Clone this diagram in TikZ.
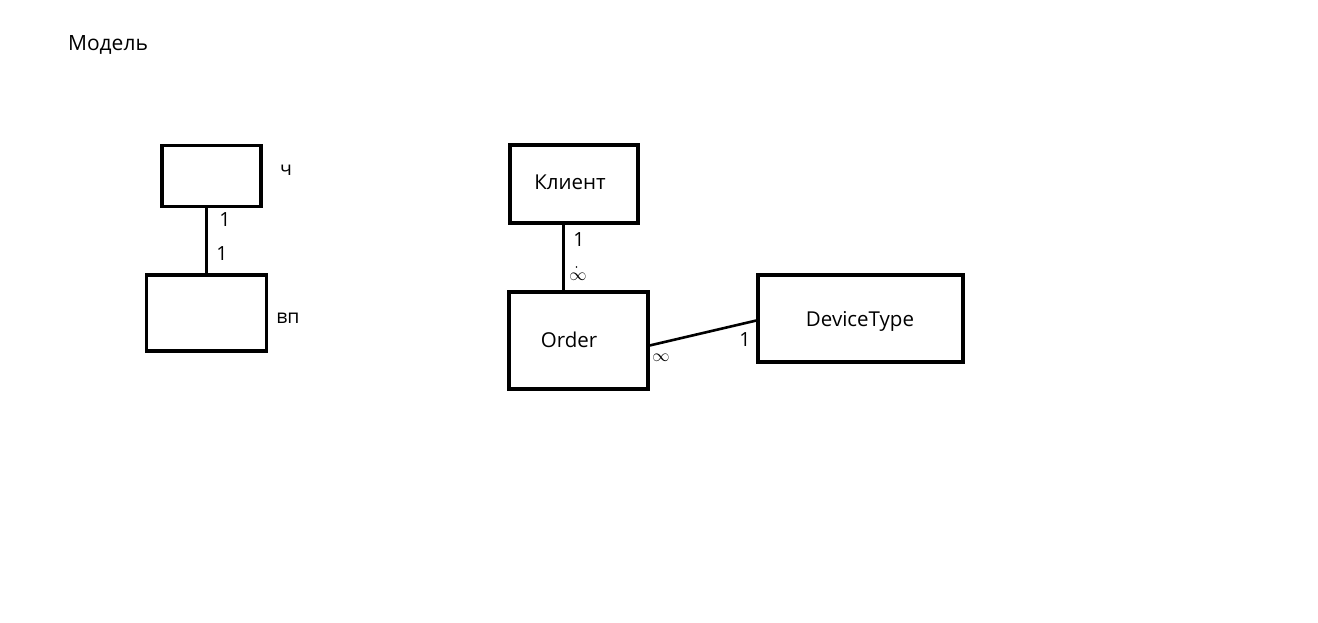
\documentclass[tikz,border=0pt]{standalone}
\usepackage{fontspec}
\setmainfont{Open Sans}
\begin{document}
\begin{tikzpicture}[x=1pt,y=-1pt,
  box/.style={draw,line width=3.2pt,inner sep=0pt},
  txt/.style={inner sep=0pt,font=\fontsize{20.5}{24}\selectfont},
  lbl/.style={inner sep=0pt,font=\fontsize{19.5}{23}\selectfont},
  inf/.style={inner sep=0pt,font=\fontsize{16}{20}\selectfont},
  conn/.style={line width=3pt}]
\useasboundingbox[fill=white] (0,0) rectangle (1318,623);
\node[txt,font=\fontsize{21}{24}\selectfont] (title) at (108,45) {Модель};
\node[box,minimum width=99pt,minimum height=61pt] (ch) at (211.5,176) {};
\node[box,minimum width=120pt,minimum height=76pt] (vp) at (206.5,313) {};
\node[lbl] (chl) at (286,170) {ч};
\node[lbl] (vpl) at (288,318) {вп};
\node[lbl] (o1) at (225,220) {1};
\node[lbl] (o2) at (222,254) {1};
\draw[conn] (vp.north |- ch.south) -- (vp.north);
\node[box,minimum width=128pt,minimum height=78pt] (kl) at (574,184) {};
\node[box,minimum width=139pt,minimum height=97pt] (ord) at (578.5,340.5) {};
\node[box,minimum width=205pt,minimum height=87pt] (dt) at (860.5,318.5) {};
\node[txt] (klt) at (570,182) {Клиент};
\node[txt] (ordt) at (569,340) {Order};
\node[txt] (dtt) at (860,321) {DeviceType};
\draw[conn] ([xshift=-11pt]kl.south) -- ([xshift=-11pt]kl.south |- ord.north);
\draw[line width=2.6pt] ([yshift=-5pt]ord.east) -- ([yshift=-2pt]dt.west);
\node[lbl] (k1) at (579,240) {1};
\node[inf] (kinf) at (578,277) {$\infty$};
\fill (576.5,267) circle (0.9pt);
\node[inf] (oinf) at (661,358) {$\infty$};
\node[lbl] (d1) at (745,340) {1};
\end{tikzpicture}
\end{document}
